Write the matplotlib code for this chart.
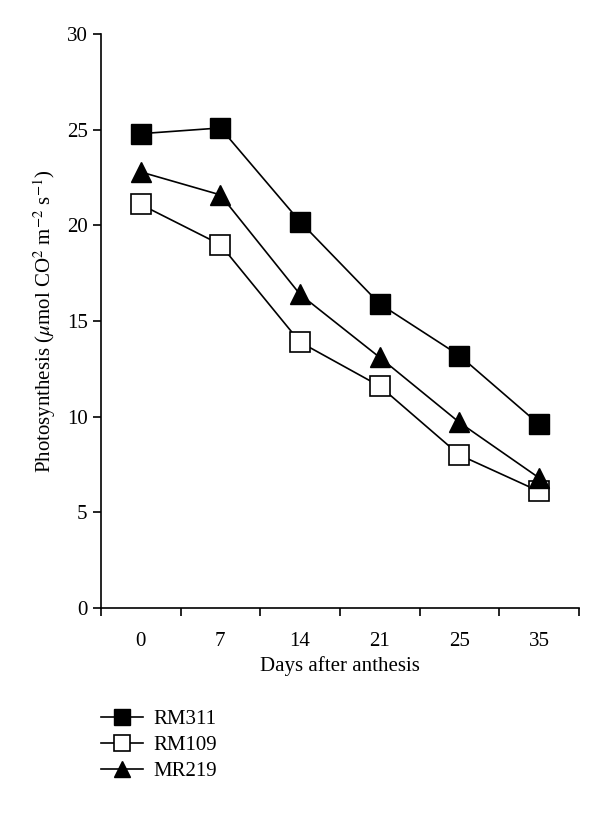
import numpy as np
import matplotlib
matplotlib.use('Agg')
import matplotlib.pyplot as plt

plt.rcParams['font.family'] = ['Liberation Serif', 'DejaVu Serif']
plt.rcParams['mathtext.fontset'] = 'stix'

# Data
days = ['0', '7', '14', '21', '25', '35']
rm311 = [24.8, 25.1, 20.2, 15.9, 13.2, 9.6]
rm109 = [21.1, 19.0, 13.9, 11.6, 8.0, 6.1]
mr219 = [22.8, 21.6, 16.4, 13.1, 9.7, 6.8]

x = np.arange(len(days))

fig = plt.figure(figsize=(6, 8.15), dpi=100)
ax = fig.add_axes([0.168, 0.254, 0.797, 0.704])

ax.plot(x, rm311, '-s', color='black', mfc='black', ms=14, lw=1.2, label='RM311')
ax.plot(x, rm109, '-s', color='black', mfc='white', ms=14, lw=1.2, mew=1.2, label='RM109')
ax.plot(x, mr219, '-^', color='black', mfc='black', ms=14, lw=1.2, label='MR219')

ax.set_xlim(-0.5, len(days) - 0.5)
ax.set_ylim(0, 30)
ax.set_yticks(np.arange(0, 31, 5))
ax.set_xticks(x)
ax.set_xticklabels(days, fontsize=15)
ax.set_xticks(np.arange(-0.5, len(days), 1), minor=True)
ax.tick_params(axis='x', which='major', length=0, pad=17)
ax.tick_params(axis='x', which='minor', length=6, width=1.2, direction='out')
ax.tick_params(axis='y', length=6, width=1.2, direction='out', labelsize=15)
for s in ['top', 'right']:
    ax.spines[s].set_visible(False)
for s in ['left', 'bottom']:
    ax.spines[s].set_linewidth(1.2)

ax.set_xlabel('Days after anthesis', fontsize=15, labelpad=4)
ax.set_ylabel(r'Photosynthesis ($\mu$mol CO$^2$ m$^{-2}$ s$^{-1}$)', fontsize=15, labelpad=6)

handles, labels = ax.get_legend_handles_labels()
fig.legend(handles, labels, loc='upper left', bbox_to_anchor=(0.137, 0.152),
           frameon=False, fontsize=15, handlelength=2.0, labelspacing=0.3,
           handletextpad=0.5, markerscale=0.85)

fig.savefig('out.png', dpi=100)
